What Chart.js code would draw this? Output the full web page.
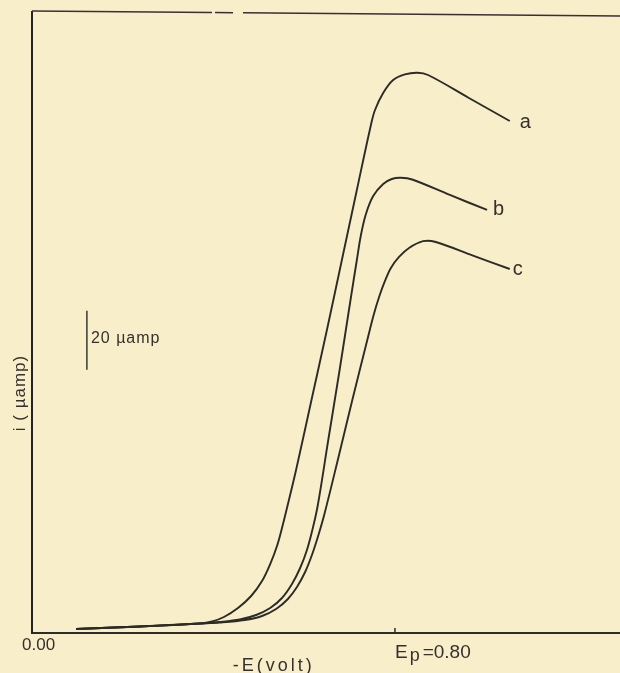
<!DOCTYPE html>
<html>
<head>
<meta charset="utf-8">
<script src="https://cdn.jsdelivr.net/npm/chart.js@4.4.1/dist/chart.umd.min.js"></script>
<style>
  html, body { margin: 0; padding: 0; background: #f8eec9; }
  canvas { display: block; }
</style>
</head>
<body>
<canvas id="c" width="620" height="673"></canvas>
<script>
// ---- data ----
const curveLabels = ['a', 'b', 'c'];

// -E (volt)
const potA = [0.097, 0.238, 0.370, 0.397, 0.423, 0.454, 0.483, 0.507, 0.525, 0.540, 0.551, 0.562, 0.582, 0.616, 0.650, 0.683, 0.716, 0.747, 0.756, 0.774, 0.796, 0.822, 0.849, 0.873, 0.963, 1.053];
// i (uamp)
const curA = [1.35, 2.20, 3.21, 3.89, 5.41, 8.45, 12.51, 17.59, 23.33, 29.42, 35.51, 42.27, 55.12, 78.80, 102.47, 126.14, 149.81, 171.80, 176.87, 182.62, 187.01, 188.88, 189.45, 188.70, 180.93, 173.15];

const potB = [0.097, 0.238, 0.370, 0.414, 0.458, 0.494, 0.525, 0.551, 0.573, 0.591, 0.606, 0.619, 0.630, 0.653, 0.678, 0.702, 0.716, 0.725, 0.736, 0.752, 0.774, 0.793, 0.813, 0.838, 0.921, 1.003];
const curB = [1.35, 2.20, 3.21, 3.72, 4.57, 6.09, 8.45, 11.84, 16.57, 21.98, 28.07, 35.51, 43.29, 65.27, 88.94, 112.61, 126.14, 134.60, 141.70, 147.78, 151.84, 153.53, 153.94, 153.36, 148.12, 143.05];

const potC = [0.097, 0.238, 0.370, 0.414, 0.469, 0.507, 0.538, 0.564, 0.584, 0.602, 0.617, 0.630, 0.644, 0.674, 0.706, 0.739, 0.753, 0.765, 0.778, 0.791, 0.809, 0.831, 0.862, 0.890, 0.972, 1.053];
const curC = [1.35, 2.20, 3.21, 3.55, 4.40, 5.75, 8.12, 11.50, 15.56, 20.63, 26.38, 32.47, 39.91, 58.51, 78.80, 99.09, 107.54, 113.63, 119.04, 123.44, 127.16, 130.20, 132.50, 132.23, 127.60, 123.09];

// axis ranges / tick labels
const xMin = 0, xMax = 1.296;
const yMin = 0, yMax = 210;
const startTickValue = 0.00;
const startTickLabel = '0.00';
const peakTickValue = 0.80;
const peakTickLabel = '=0.80';
const scaleBarCurrent = 20;      // uamp
const scaleBarBase = 89;         // uamp, lower end of scale bar
const scaleBarPotential = 0.121; // volt, where the scale bar stands

const toPts = (xs, ys) => xs.map((v, i) => ({ x: v, y: ys[i] }));
const ink = '#2c2b27';
const txt = '#35302f';

const overlay = {
  id: 'overlay',
  afterDraw(chart) {
    const { ctx, chartArea: ca, scales: { x, y } } = chart;
    ctx.save();
    ctx.strokeStyle = '#3a2f38';
    ctx.lineWidth = 1.6;
    // top frame line (slightly tilted like the scan, with a small break)
    const topY = px => ca.top - 1 + (px - ca.left) * 5 / (ca.right - ca.left);
    [[ca.left, 212], [215, 233], [243, ca.right]].forEach(([a, b]) => {
      ctx.beginPath();
      ctx.moveTo(a, topY(a));
      ctx.lineTo(b, topY(b));
      ctx.stroke();
    });

    // E_p tick (pointing inward)
    const xp = x.getPixelForValue(peakTickValue);
    ctx.strokeStyle = ink;
    ctx.lineWidth = 1.5;
    ctx.beginPath();
    ctx.moveTo(xp, ca.bottom);
    ctx.lineTo(xp, ca.bottom - 5);
    ctx.stroke();

    // scale bar
    const sbx = x.getPixelForValue(scaleBarPotential);
    const sbTop = y.getPixelForValue(scaleBarBase + scaleBarCurrent);
    const sbBot = y.getPixelForValue(scaleBarBase);
    ctx.lineWidth = 1.4;
    ctx.beginPath();
    ctx.moveTo(sbx, sbTop);
    ctx.lineTo(sbx, sbBot);
    ctx.stroke();

    ctx.fillStyle = txt;
    ctx.textBaseline = 'alphabetic';
    ctx.textAlign = 'left';

    ctx.font = '16px "Liberation Sans", Arial, sans-serif';
    ctx.letterSpacing = '1px';
    ctx.fillText(scaleBarCurrent + ' \u00b5amp', sbx + 4, sbTop + 32);

    // tick labels
    ctx.font = '17px "Liberation Sans", Arial, sans-serif';
    ctx.letterSpacing = '0px';
    const x0 = x.getPixelForValue(startTickValue);
    ctx.fillText(startTickLabel, x0 - 10, ca.bottom + 17);

    ctx.font = '19px "Liberation Sans", Arial, sans-serif';
    ctx.fillText('E', xp, ca.bottom + 25);
    let wE = ctx.measureText('E').width;
    ctx.font = '18px "Liberation Sans", Arial, sans-serif';
    ctx.fillText('p', xp + wE + 2, ca.bottom + 28);
    let wp = ctx.measureText('p').width;
    ctx.font = '19px "Liberation Sans", Arial, sans-serif';
    ctx.fillText(peakTickLabel, xp + wE + wp + 5, ca.bottom + 25);

    // x-axis title
    ctx.font = '18px "Liberation Sans", Arial, sans-serif';
    ctx.letterSpacing = '3px';
    ctx.textAlign = 'center';
    ctx.fillText('-E(volt)', x.getPixelForValue(0.533), ca.bottom + 38);

    // y-axis title (rotated)
    ctx.save();
    ctx.translate(25, 393);
    ctx.rotate(-Math.PI / 2);
    ctx.font = '17px "Liberation Sans", Arial, sans-serif';
    ctx.letterSpacing = '1px';
    ctx.fillText('i ( \u00b5amp)', 0, 0);
    ctx.restore();

    // curve labels
    ctx.font = '20px "Liberation Sans", Arial, sans-serif';
    ctx.letterSpacing = '0px';
    ctx.textAlign = 'left';
    const offs = [[10, 7], [6, 5], [3, 6]];
    chart.data.datasets.forEach((ds, i) => {
      const pts = chart.getDatasetMeta(i).data;
      const p = pts[pts.length - 1];
      ctx.fillText(curveLabels[i], p.x + offs[i][0], p.y + offs[i][1]);
    });
    ctx.restore();
  }
};

new Chart(document.getElementById('c'), {
  type: 'line',
  data: {
    datasets: [
      { label: curveLabels[0], data: toPts(potA, curA) },
      { label: curveLabels[1], data: toPts(potB, curB) },
      { label: curveLabels[2], data: toPts(potC, curC) }
    ]
  },
  options: {
    responsive: false,
    animation: false,
    layout: { padding: { left: 32, top: 12, right: 0, bottom: 40 } },
    plugins: { legend: { display: false }, tooltip: { enabled: false } },
    elements: {
      point: { radius: 0 },
      line: { borderWidth: 1.9, borderColor: ink, cubicInterpolationMode: 'default', tension: 0.35, fill: false }
    },
    scales: {
      x: {
        type: 'linear', min: xMin, max: xMax,
        grid: { display: false, drawTicks: false },
        ticks: { display: false },
        border: { display: true, color: '#2f2a2c', width: 2 }
      },
      y: {
        type: 'linear', min: yMin, max: yMax,
        grid: { display: false, drawTicks: false },
        ticks: { display: false },
        border: { display: true, color: '#242422', width: 2 }
      }
    }
  },
  plugins: [overlay]
});
</script>
</body>
</html>
